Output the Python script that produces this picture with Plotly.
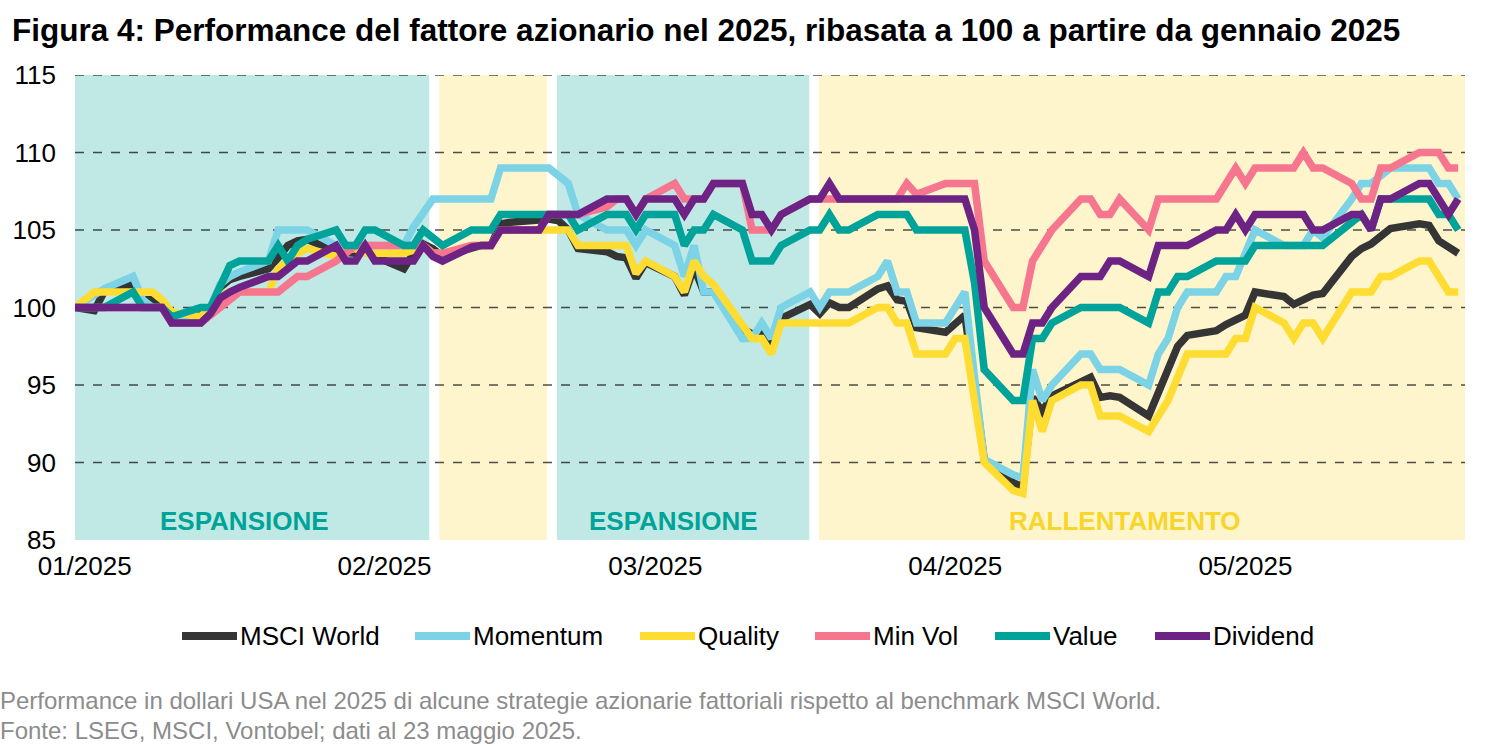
import plotly.graph_objects as go
import pandas as pd

# ---------------- data ----------------
dates = [
    "2024-12-31",
    "2025-01-02", "2025-01-03", "2025-01-06", "2025-01-07", "2025-01-08", "2025-01-09", "2025-01-10",
    "2025-01-13", "2025-01-14", "2025-01-15", "2025-01-16", "2025-01-17", "2025-01-20", "2025-01-21",
    "2025-01-22", "2025-01-23", "2025-01-24", "2025-01-27", "2025-01-28", "2025-01-29", "2025-01-30",
    "2025-01-31",
    "2025-02-03", "2025-02-04", "2025-02-05", "2025-02-06", "2025-02-07", "2025-02-10", "2025-02-11",
    "2025-02-12", "2025-02-13", "2025-02-14", "2025-02-17", "2025-02-18", "2025-02-19", "2025-02-20",
    "2025-02-21", "2025-02-24", "2025-02-25", "2025-02-26", "2025-02-27", "2025-02-28",
    "2025-03-03", "2025-03-04", "2025-03-05", "2025-03-06", "2025-03-07", "2025-03-10", "2025-03-11",
    "2025-03-12", "2025-03-13", "2025-03-14", "2025-03-17", "2025-03-18", "2025-03-19", "2025-03-20",
    "2025-03-21", "2025-03-24", "2025-03-25", "2025-03-26", "2025-03-27", "2025-03-28", "2025-03-31",
    "2025-04-01", "2025-04-02", "2025-04-03", "2025-04-04", "2025-04-07", "2025-04-08", "2025-04-09",
    "2025-04-10", "2025-04-11", "2025-04-14", "2025-04-15", "2025-04-16", "2025-04-17", "2025-04-18",
    "2025-04-21", "2025-04-22", "2025-04-23", "2025-04-24", "2025-04-25", "2025-04-28", "2025-04-29",
    "2025-04-30",
    "2025-05-01", "2025-05-02", "2025-05-05", "2025-05-06", "2025-05-07", "2025-05-08", "2025-05-09",
    "2025-05-12", "2025-05-13", "2025-05-14", "2025-05-15", "2025-05-16", "2025-05-19", "2025-05-20",
    "2025-05-21", "2025-05-22", "2025-05-23",
]

msci_world = [
    100, 99.8, 101, 101.5, 100.5, 100.5, 100.3, 99.5, 99.6, 100, 101.3, 101.8, 102, 102.5, 103.2,
    104, 104.3, 104.4, 103.6, 103.6, 103.5, 103.7, 103.3,
    102.5, 103.5, 104.1, 103.8, 103.3, 103.8, 104, 104, 105.4, 105.5, 105.6, 105.7, 105.6, 105,
    103.8, 103.6, 103.3, 103.2, 101.9, 102.9,
    102, 100.8, 102.6, 101, 101, 98.6, 98.3, 98.4, 97.6, 99.3, 100.2, 99.6, 100.3, 100, 100,
    101.2, 101.4, 100.5, 100.4, 98.7, 98.4,
    98.9, 99.5, 95, 90.2, 88.7, 88.4, 94.2, 93.3, 94.3, 95.3, 95.5, 94.2, 94.3, 94.2, 93, 94.5,
    96, 97.5, 98.2, 98.5, 98.9, 99.2,
    99.5, 101, 100.7, 100.2, 100.5, 100.8, 100.9, 103.3, 103.8, 104.1, 104.6, 105.1, 105.4, 105.3,
    104.3, 103.9, 103.5,
]

momentum = [
    100, 100.8, 101.2, 102, 100.5, 100, 100, 99.3, 99.4, 100, 101.5, 102, 102.3, 103, 105,
    105, 105, 105, 104, 104, 104, 104, 104,
    104, 105.2, 106.2, 107, 107, 107, 107, 107, 109, 109, 109, 109, 108.5, 108,
    106, 105, 105, 105, 104, 105,
    104, 102, 104, 101, 101, 98, 98, 99, 98, 100, 101, 100, 101, 101, 101,
    102, 103, 101, 101, 99, 99,
    100, 101, 95.5, 90.2, 89.2, 89, 96, 94, 95, 97, 97, 96, 96, 96, 95, 97,
    98, 100, 101, 101, 102, 102,
    103.5, 105, 104, 104, 104, 105, 104.5, 107, 108, 108, 108.5, 109, 109, 109,
    108, 108, 107,
]

quality = [
    100, 101, 101, 101, 101, 101, 100.5, 99.7, 99.4, 100, 100.8, 101, 101, 101, 102.5,
    103, 103.5, 103.8, 103.3, 103.7, 103.8, 103.5, 103.5,
    103.5, 103.7, 104, 103.5, 103.5, 104, 104, 104, 105, 105, 105, 105, 105, 105,
    104, 104, 104, 104, 102.2, 103,
    102, 101, 103, 102, 101.5, 99, 98, 98, 97, 99, 99, 99, 99, 99, 99,
    100, 100, 99, 99, 97, 97,
    98, 98, 94, 90, 88.2, 88, 94, 92, 94, 95, 95, 93, 93, 93, 92, 93,
    94, 95.5, 97, 97, 97, 98,
    98, 100, 99, 98, 99, 99, 98, 101, 101, 101, 102, 102, 103, 103,
    102, 101, 101,
]

min_vol = [
    100, 100, 100, 100, 100, 100, 100, 99, 99, 99.5, 100, 100.6, 101, 101, 101,
    101.5, 102, 102, 103, 103.5, 104, 104, 104,
    104, 104, 104, 103.5, 103.5, 104, 104, 104, 105, 105, 105, 106, 106, 106,
    106, 106.5, 107, 107, 106, 107,
    108, 107, 107, 107, 108, 108, 105, 105, 105, 106, 107, 107, 107, 107, 107,
    107, 107, 107, 108, 107.3, 108,
    108, 108, 108, 103, 100, 100, 103, 104, 105, 107, 107, 106, 106, 107, 105, 107,
    107, 107, 107, 107, 108, 109,
    108, 109, 109, 109, 110, 109, 109, 108, 107, 107, 109, 109, 110, 110,
    110, 109, 109,
]

value = [
    100, 100, 100, 101, 100, 100, 100, 99.4, 100, 100, 101.5, 102.7, 103, 103, 104,
    103, 104, 104.4, 105, 104, 104, 105, 105,
    104, 104, 105, 104.5, 104, 105, 105, 105, 106, 106, 106, 106, 106, 106,
    105, 106, 106, 106, 105, 106,
    106, 104, 105, 105, 106, 105, 103, 103, 103, 104, 105, 105, 106, 105, 105,
    106, 106, 106, 106, 105, 105,
    105, 105, 101.6, 96, 94, 94, 98, 98, 99, 100, 100, 100, 100, 100, 99, 101,
    101, 102, 102, 103, 103, 103,
    103, 104, 104, 104, 104, 104, 104, 105.5, 106, 105, 107, 107, 107, 107,
    106, 106, 105,
]

dividend = [
    100, 100, 100, 100, 100, 100, 100, 99, 99, 99.6, 100.6, 101, 101.3, 102, 102,
    102.5, 103, 103, 104, 103, 103, 104, 103,
    103, 103, 104, 103.3, 103, 103.9, 104, 104, 105, 105, 105, 106, 106, 106,
    106, 107, 107, 107, 106, 107,
    107, 106, 107, 107, 108, 108, 106, 106, 105, 106, 107, 107, 108, 107, 107,
    107, 107, 107, 107, 107, 107,
    107, 107, 105, 100, 97, 97, 99, 99, 100, 102, 102, 102, 103, 103, 102, 104,
    104, 104, 104, 105, 105, 106,
    105, 106, 106, 106, 106, 105, 105, 106, 106, 105, 107, 107, 108, 108,
    107, 106, 107,
]

series_names = ["MSCI World", "Momentum", "Quality", "Min Vol", "Value", "Dividend"]
series_values = [msci_world, momentum, quality, min_vol, value, dividend]
series_colors = ["#353535", "#7CD3E6", "#FEDC32", "#F7768F", "#00A39A", "#6C2383"]

# economic regime bands
regime_start = ["2024-12-31 00:00", "2025-02-06 16:00", "2025-02-18 20:00", "2025-03-17 22:00"]
regime_end = ["2025-02-05 15:00", "2025-02-17 19:00", "2025-03-16 22:00", "2025-05-23 18:00"]
regime_kind = ["exp", "slow", "exp", "slow"]
regime_label = ["ESPANSIONE", "", "ESPANSIONE", "RALLENTAMENTO"]
regime_label_x = ["2025-01-17 12:00", None, "2025-03-02 20:00", "2025-04-18 14:00"]

x_tick_vals = ["2025-01-01", "2025-02-01", "2025-03-01", "2025-04-01", "2025-05-01"]
x_tick_text = ["01/2025", "02/2025", "03/2025", "04/2025", "05/2025"]
y_tick_vals = [85, 90, 95, 100, 105, 110, 115]

# ---------------- styling ----------------
FONT = "Liberation Sans, Arial, sans-serif"
band_fill = {"exp": "#C0E8E4", "slow": "#FFF5CC"}
label_color = {"exp": "#00A398", "slow": "#F7D52A"}

W, H = 1500, 750
ML, MR, MT, MB = 75, 35, 75, 210
PW = W - ML - MR
PH = H - MT - MB


def px_x(px):
    return (px - ML) / PW


def px_y(py):
    return (MT + PH - py) / PH


fig = go.Figure()

for name, vals, col in zip(series_names, series_values, series_colors):
    fig.add_trace(go.Scatter(
        x=dates, y=vals, name=name, mode="lines",
        line=dict(color=col, width=7.5, shape="linear"),
        hoverinfo="skip", showlegend=False,
    ))

shapes = []
annotations = []
for s, e, kind, lab, lx in zip(regime_start, regime_end, regime_kind, regime_label, regime_label_x):
    shapes.append(dict(type="rect", xref="x", yref="paper", x0=s, x1=e, y0=0, y1=1,
                       fillcolor=band_fill[kind], line=dict(width=0), layer="below"))
    if lab:
        annotations.append(dict(x=lx, y=86.25, xref="x", yref="y", text="<b>%s</b>" % lab,
                                showarrow=False, font=dict(family=FONT, size=26, color=label_color[kind]),
                                xanchor="center", yanchor="middle"))

for v in y_tick_vals[1:]:
    shapes.append(dict(type="line", xref="paper", yref="y", x0=0, x1=1, y0=v, y1=v,
                       line=dict(color="rgba(20,20,20,0.75)", width=1.3, dash="dash"), layer="below"))

# custom legend (swatch immediately followed by label)
legend_swatch_px = [182, 415, 640, 815, 995, 1155]
SW_LEN = 55
LEG_Y = 636
for name, col, sx in zip(series_names, series_colors, legend_swatch_px):
    shapes.append(dict(type="line", xref="paper", yref="paper",
                       x0=px_x(sx), x1=px_x(sx + SW_LEN), y0=px_y(LEG_Y), y1=px_y(LEG_Y),
                       line=dict(color=col, width=8)))
    annotations.append(dict(xref="paper", yref="paper", x=px_x(sx + SW_LEN + 1), y=px_y(LEG_Y),
                            xanchor="left", yanchor="middle", showarrow=False, text=name,
                            font=dict(family=FONT, size=26, color="black")))

# footer notes
annotations.append(dict(xref="paper", yref="paper", x=px_x(-2), y=px_y(700),
                        xanchor="left", yanchor="middle", showarrow=False, align="left",
                        text="Performance in dollari USA nel 2025 di alcune strategie azionarie fattoriali rispetto al benchmark MSCI World.",
                        font=dict(family=FONT, size=24, color="#8C8C8C")))
annotations.append(dict(xref="paper", yref="paper", x=px_x(-2), y=px_y(730),
                        xanchor="left", yanchor="middle", showarrow=False, align="left",
                        text="Fonte: LSEG, MSCI, Vontobel; dati al 23 maggio 2025.",
                        font=dict(family=FONT, size=24, color="#8C8C8C")))

fig.update_layout(
    width=W, height=H,
    margin=dict(l=ML, r=MR, t=MT, b=MB, autoexpand=False),
    paper_bgcolor="white", plot_bgcolor="white",
    font=dict(family=FONT, size=26, color="black"),
    title=dict(text="<b>Figura 4: Performance del fattore azionario nel 2025, ribasata a 100 a partire da gennaio 2025</b>",
               x=12 / W, xanchor="left", xref="container",
               y=1 - 30 / H, yanchor="middle", yref="container",
               font=dict(family=FONT, size=31.5, color="black")),
    xaxis=dict(type="date", range=["2024-12-31", "2025-05-23 17:00"],
               tickvals=x_tick_vals, ticktext=x_tick_text,
               showgrid=False, zeroline=False, showline=False, ticks="",
               tickfont=dict(size=26, color="black"), ticklabelstandoff=8),
    yaxis=dict(range=[85, 115], tickvals=y_tick_vals, ticktext=[str(v) for v in y_tick_vals],
               showgrid=False, zeroline=False, showline=False, ticks="",
               tickfont=dict(size=26, color="black"), ticklabelstandoff=18),
    shapes=shapes,
    annotations=annotations,
    showlegend=False,
)

fig.write_html("out.html")
